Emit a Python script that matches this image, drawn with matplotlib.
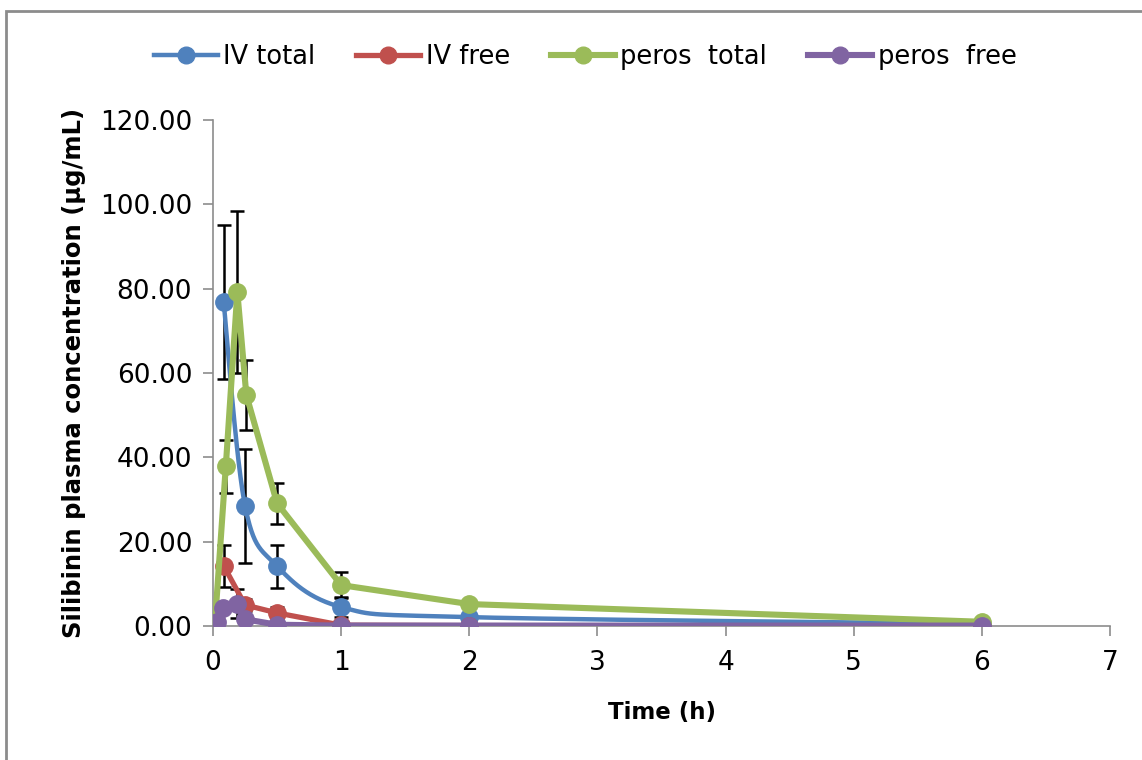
import numpy as np
import matplotlib
matplotlib.use('Agg')
import matplotlib.pyplot as plt
from matplotlib.patches import Rectangle

# data
iv_t = [0.083, 0.25, 0.5, 1, 2, 6]
iv_total = [76.8, 28.5, 14.2, 4.5, 2.1, 0.5]
iv_total_sd = [18.3, 13.5, 5.1, 2.4, 0, 0]
iv_free = [14.3, 5.0, 3.1, 0.2, 0.1, 0.05]
iv_free_sd = [5.0, 1.5, 1.3, 0, 0, 0]

po_total_t = [0.02, 0.1, 0.19, 0.26, 0.5, 1, 2, 6]
po_total = [2.8, 37.9, 79.2, 54.8, 29.1, 9.7, 5.2, 1.0]
po_total_sd = [0, 6.3, 19.2, 8.3, 4.8, 3.0, 0, 0]
po_free_t = [0.03, 0.08, 0.19, 0.25, 0.5, 1, 2, 6]
po_free = [1.0, 4.3, 5.3, 1.6, 0.3, 0.1, 0.1, 0.1]
po_free_sd = [0, 0, 3.5, 0, 0, 0, 0, 0]

XMAX, YMAX = 7, 120


def smooth(x, y, n=30):
    # excel-like bezier smoothing, done in normalised axis space
    sx, sy = 897.0 / XMAX, 506.0 / YMAX
    p = np.column_stack([np.asarray(x) * sx, np.asarray(y) * sy])
    out = [p[0]]
    for i in range(len(p) - 1):
        p0 = p[i - 1] if i > 0 else p[i]
        p1, p2 = p[i], p[i + 1]
        p3 = p[i + 2] if i + 2 < len(p) else p[i + 1]
        c1 = p1 + (p2 - p0) / 6.0
        c2 = p2 - (p3 - p1) / 6.0
        t = np.linspace(0, 1, n)[1:, None]
        seg = ((1 - t) ** 3) * p1 + 3 * ((1 - t) ** 2) * t * c1 + 3 * (1 - t) * t ** 2 * c2 + t ** 3 * p2
        out.extend(seg)
    out = np.array(out)
    return out[:, 0] / sx, out[:, 1] / sy


fig = plt.figure(figsize=(11.42, 7.6), dpi=100)
fig.patches.append(Rectangle((6 / 1142, -0.01), 1.02, 1 - 11 / 760 + 0.01, transform=fig.transFigure,
                             fill=False, edgecolor='#8c8c8c', linewidth=2))
ax = fig.add_axes([213 / 1142, 1 - 626 / 760, (1110 - 213) / 1142, (626 - 120) / 760])

series = [
    ('IV total', iv_t, iv_total, iv_total_sd, '#4F81BD', 3.2, True),
    ('IV free', iv_t, iv_free, iv_free_sd, '#C0504D', 3.8, False),
    ('peros  total', po_total_t, po_total, po_total_sd, '#9BBB59', 4.4, False),
    ('peros  free', po_free_t, po_free, po_free_sd, '#8064A2', 4.4, False),
]

for k, (name, t, y, sd, col, lw, sm) in enumerate(series):
    ax.errorbar(t, y, yerr=sd, fmt='none', ecolor='black', elinewidth=1.8,
                capsize=5, capthick=1.8, zorder=2 + k * 0.1)
    xs, ys = smooth(t, y) if sm else (t, y)
    ax.plot(xs, ys, color=col, lw=lw, solid_capstyle='round', solid_joinstyle='round', zorder=3 + k)
    ax.plot(t, y, 'o', color=col, ms=12.5, zorder=3 + k)
    ax.plot([], [], '-o', color=col, lw=lw, ms=12, label=name)

ax.set_xlim(0, XMAX)
ax.set_ylim(0, YMAX)
ax.set_xticks(range(0, 8))
ax.set_yticks(range(0, 121, 20))
ax.set_yticklabels(['%.2f' % v for v in range(0, 121, 20)])
for s in ['top', 'right']:
    ax.spines[s].set_visible(False)
for s in ['left', 'bottom']:
    ax.spines[s].set_color('#8c8c8c')
    ax.spines[s].set_linewidth(1.2)
ax.tick_params(direction='out', length=7, width=1.2, color='#8c8c8c', labelsize=19)
ax.tick_params(axis='x', pad=10)
ax.tick_params(axis='y', pad=8)
ax.set_xlabel('Time (h)', fontsize=16.5, fontweight='bold', labelpad=18)
ax.set_ylabel('Silibinin plasma concentration (µg/mL)', fontsize=17.5, fontweight='bold', labelpad=10)

fig.legend(loc='center', bbox_to_anchor=(585 / 1142, 1 - 57 / 760), ncol=4, frameon=False,
           fontsize=18.5, handlelength=2.5, handletextpad=0.2, columnspacing=1.6)

fig.savefig('out.png', dpi=100)
